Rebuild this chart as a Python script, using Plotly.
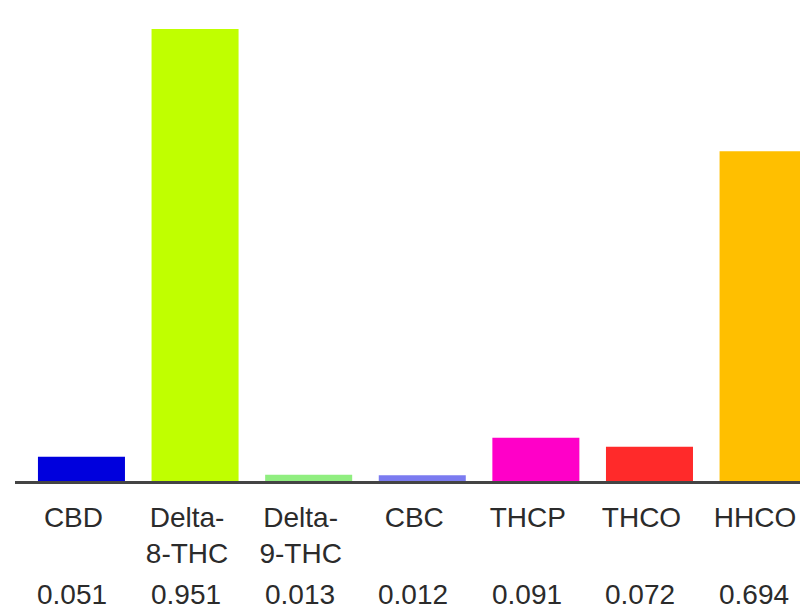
import plotly.graph_objects as go

categories = ["CBD", "Delta-8-THC", "Delta-9-THC", "CBC", "THCP", "THCO", "HHCO"]
tick_labels = ["CBD", "Delta-<br>8-THC", "Delta-<br>9-THC", "CBC", "THCP", "THCO", "HHCO"]
values = [0.051, 0.951, 0.013, 0.012, 0.091, 0.072, 0.694]
value_labels = ["0.051", "0.951", "0.013", "0.012", "0.091", "0.072", "0.694"]
colors = ["#0000dd", "#c0ff00", "#90ee80", "#7b7bf0", "#ff00c8", "#ff2a2a", "#ffbf00"]

FONT = "Liberation Sans, Arial, sans-serif"
TXT = "#2b2b2b"

fig = go.Figure(
    go.Bar(
        x=categories,
        y=values,
        marker=dict(color=colors, line=dict(width=0)),
        hoverinfo="skip",
    )
)

for c, v in zip(categories, value_labels):
    fig.add_annotation(
        x=c, y=-0.235, xref="x", yref="paper",
        text=v, showarrow=False, yanchor="middle", xshift=-9,
        font=dict(family=FONT, size=28, color=TXT),
    )

fig.update_layout(
    width=800, height=609,
    margin=dict(l=15, r=0, t=0, b=128),
    paper_bgcolor="white", plot_bgcolor="white",
    bargap=0.234,
    showlegend=False,
    xaxis=dict(
        range=[-0.585, 6.325],
        tickmode="array", tickvals=categories, ticktext=tick_labels,
        showline=True, linecolor="#444444", linewidth=3,
        showgrid=False, zeroline=False, ticks="",
        ticklabelstandoff=9, ticklabelshift=-8,
        tickfont=dict(family=FONT, size=28, color=TXT),
        fixedrange=True,
    ),
    yaxis=dict(
        range=[0, 1.012], visible=False, showgrid=False, zeroline=False,
        fixedrange=True,
    ),
)

fig.write_html(
    "out.html",
    config={"displayModeBar": False, "staticPlot": True},
    post_script="document.body.style.margin='0';document.body.style.overflow='hidden';",
)
